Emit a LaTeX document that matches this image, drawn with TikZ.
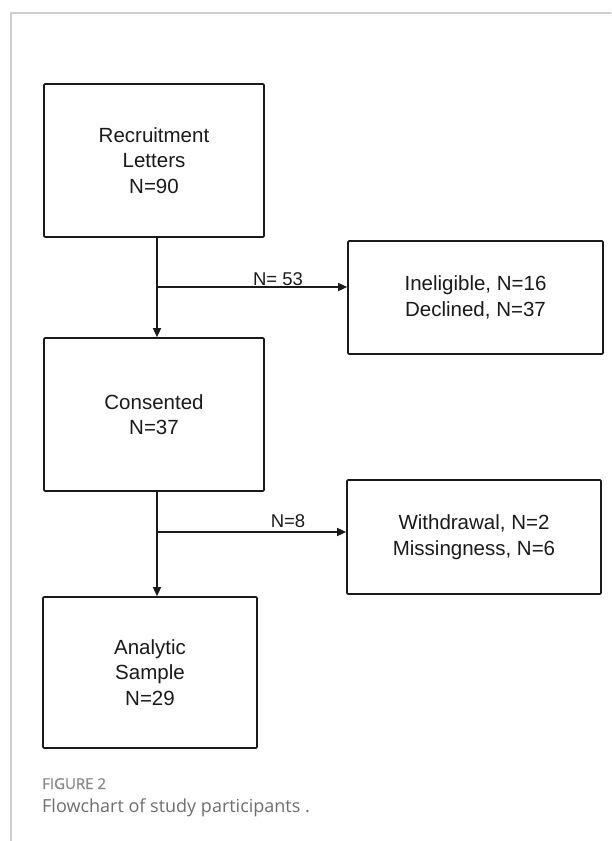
\documentclass[tikz,border=0pt]{standalone}
\usepackage{fontspec}
\setmainfont{Liberation Sans}
\newfontfamily\capfont{Open Sans}
\newfontfamily\capfontb[FakeBold=1.2]{Open Sans}
\usetikzlibrary{arrows.meta}
\definecolor{ink}{HTML}{1A1A1A}
\definecolor{framegray}{HTML}{CFCFCF}
\definecolor{capgray}{HTML}{8A8A8A}
\definecolor{captext}{HTML}{6E6E6E}
\tikzset{
  flowbox/.style={draw=ink, line width=1.7pt, rounded corners=1pt, inner sep=0pt, align=center,
    text=ink, font=\fontsize{20.5}{25.5}\selectfont},
  flowarrow/.style={draw=ink, line width=1.5pt, -{Triangle[length=9pt,width=8pt]}},
  flowlabel/.style={text=ink, font=\fontsize{18.5}{22}\selectfont, inner sep=0pt, anchor=base}
}
\begin{document}
\begin{tikzpicture}[x=1pt,y=-1pt]
\useasboundingbox (0,0) rectangle (611,841);
\fill[white] (0,0) rectangle (611,841);
\draw[framegray, line width=1.2pt] (611,13) -- (11,13) -- (11,841);

\node[flowbox, minimum width=220pt, minimum height=153pt] (rec) at (154,160.5) {Recruitment\\Letters\\N=90};
\node[flowbox, minimum width=255pt, minimum height=113pt] (inel) at (475.5,297.5) {Ineligible, N=16\\Declined, N=37};
\node[flowbox, minimum width=220pt, minimum height=153pt] (cons) at (154,414.5) {Consented\\N=37};
\node[flowbox, minimum width=254pt, minimum height=114pt] (withd) at (474,537) {Withdrawal, N=2\\Missingness, N=6};
\node[flowbox, minimum width=214pt, minimum height=151pt] (ana) at (150,672.5) {Analytic\\Sample\\N=29};

\coordinate (b1) at (157,287);
\coordinate (b2) at (157,532);

\draw[flowarrow] (rec.south -| b1) -- (cons.north -| b1);
\draw[flowarrow] (b1) -- (inel.west |- b1);
\draw[flowarrow] (cons.south -| b2) -- (ana.north -| b2);
\draw[flowarrow] (b2) -- (withd.west |- b2);

\node[flowlabel] (l1) at (278,285) {N= 53};
\node[flowlabel] (l2) at (288,527) {N=8};

\node[anchor=base west, inner sep=0pt, text=capgray, font=\capfontb\fontsize{15}{18}\selectfont] (figlab) at (42,789) {FIGURE 2};
\node[anchor=base west, inner sep=0pt, text=captext, font=\capfont\fontsize{18}{21}\selectfont] (figcap) at (42,812.5) {Flowchart of study participants .};
\end{tikzpicture}
\end{document}
